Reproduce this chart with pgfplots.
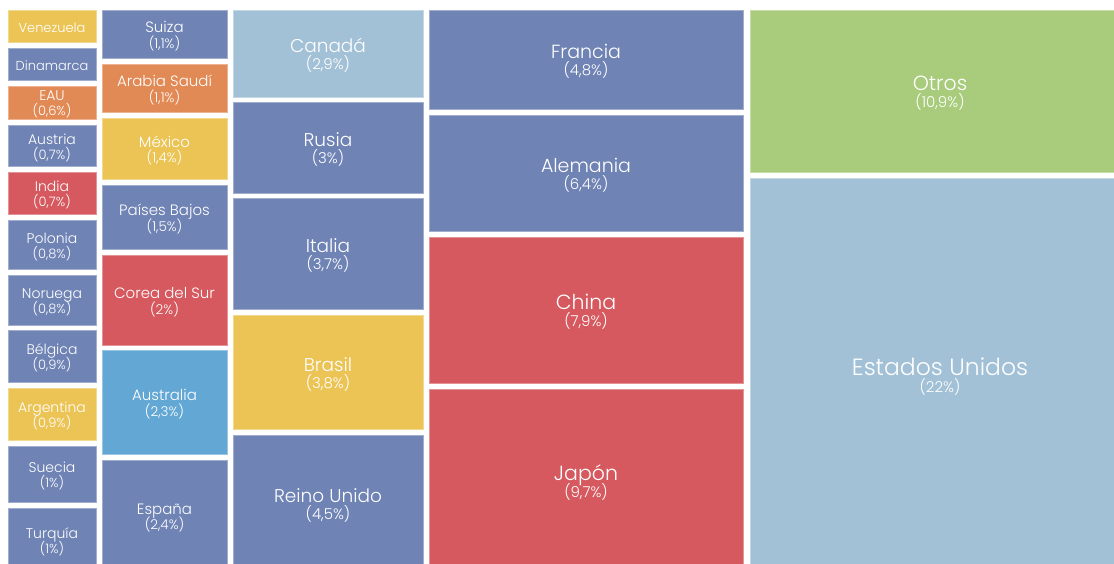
\documentclass[border=0pt]{standalone}
\usepackage{fontspec}
\setmainfont{Poppins}[UprightFont={* Light}]
\usepackage{pgfplots}
\pgfplotsset{compat=1.18}

\definecolor{azul}{RGB}{111,131,180}
\definecolor{rojo}{RGB}{213,89,95}
\definecolor{amar}{RGB}{235,196,85}
\definecolor{nara}{RGB}{226,138,85}
\definecolor{celes}{RGB}{163,193,214}
\definecolor{austr}{RGB}{99,168,213}
\definecolor{verde}{RGB}{169,204,124}

% x0 y0 x1 y1 (pixels, y downwards), colour, name, share, name size, share size
\newcommand{\cell}[9]{%
  \addplot[fill=#5, draw=#5!65!white, line width=0.8pt]
    coordinates {(#1,#2) (#3,#2) (#3,#4) (#1,#4)} --cycle;
  \node[text=white, align=center, inner sep=0pt, yshift=-2pt,
        font=\fontsize{#8}{#9}\selectfont]
    at (axis cs:{0.5*(#1+#3)},{0.5*(#2+#4)})
    {#6\ifx\relax#7\relax\else\\[2pt]{\fontsize{#9}{#9}\selectfont(#7)}\fi};
}

\begin{document}
\setlength{\lineskiplimit}{-50pt}%
\begin{tikzpicture}
\useasboundingbox (0,0) rectangle (1114pt,564pt);
\begin{axis}[
  at={(0,0)}, anchor=south west,
  hide axis, scale only axis,
  width=1114pt, height=564pt,
  xmin=0, xmax=1114, ymin=0, ymax=564,
  y dir=reverse, clip=false,
]
% column 1
\cell{8}{10}{96}{42}{amar}{Venezuela}{}{13}{13}
\cell{8}{48}{96}{80}{azul}{Dinamarca}{}{13}{13}
\cell{8}{86}{96}{119}{nara}{EAU}{0,6\%}{14}{13}
\cell{8}{125}{96}{166}{azul}{Austria}{0,7\%}{14}{13}
\cell{8}{172}{96}{214}{rojo}{India}{0,7\%}{14}{13}
\cell{8}{220}{96}{269}{azul}{Polonia}{0,8\%}{14}{13}
\cell{8}{275}{96}{325}{azul}{Noruega}{0,8\%}{14}{13}
\cell{8}{330}{96}{382}{azul}{Bélgica}{0,9\%}{14}{13}
\cell{8}{388}{96}{440}{amar}{Argentina}{0,9\%}{14}{13}
\cell{8}{446}{96}{502}{azul}{Suecia}{1\%}{14}{13}
\cell{8}{508}{96}{572}{azul}{Turquía}{1\%}{14}{13}
% column 2
\cell{102}{10}{227}{58}{azul}{Suiza}{1,1\%}{15}{13.5}
\cell{102}{64}{227}{112}{nara}{Arabia Saudí}{1,1\%}{15}{13.5}
\cell{102}{118}{227}{179}{amar}{México}{1,4\%}{15}{13.5}
\cell{102}{185}{227}{249}{azul}{Países Bajos}{1,5\%}{15}{13.5}
\cell{102}{255}{227}{345}{rojo}{Corea del Sur}{2\%}{15}{13.5}
\cell{102}{350}{227}{454}{austr}{Australia}{2,3\%}{15}{13.5}
\cell{102}{460}{227}{572}{azul}{España}{2,4\%}{15}{13.5}
% column 3
\cell{233}{10}{423}{97}{celes}{Canadá}{2,9\%}{18.5}{15}
\cell{233}{102}{423}{193}{azul}{Rusia}{3\%}{18.5}{15}
\cell{233}{198}{423}{309}{azul}{Italia}{3,7\%}{18.5}{15}
\cell{233}{315}{423}{429}{amar}{Brasil}{3,8\%}{18.5}{15}
\cell{233}{435}{423}{572}{azul}{Reino Unido}{4,5\%}{18.5}{15}
% column 4
\cell{429}{10}{743}{109}{azul}{Francia}{4,8\%}{19}{15}
\cell{429}{115}{743}{231}{azul}{Alemania}{6,4\%}{19}{15}
\cell{429}{237}{743}{383}{rojo}{China}{7,9\%}{20.5}{15}
\cell{429}{389}{743}{572}{rojo}{Japón}{9,7\%}{20.5}{15}
% column 5
\cell{750}{10}{1130}{172}{verde}{Otros}{10,9\%}{20.5}{15}
\cell{750}{178}{1130}{572}{celes}{Estados Unidos}{22\%}{23.5}{15}
\end{axis}
\end{tikzpicture}
\end{document}
